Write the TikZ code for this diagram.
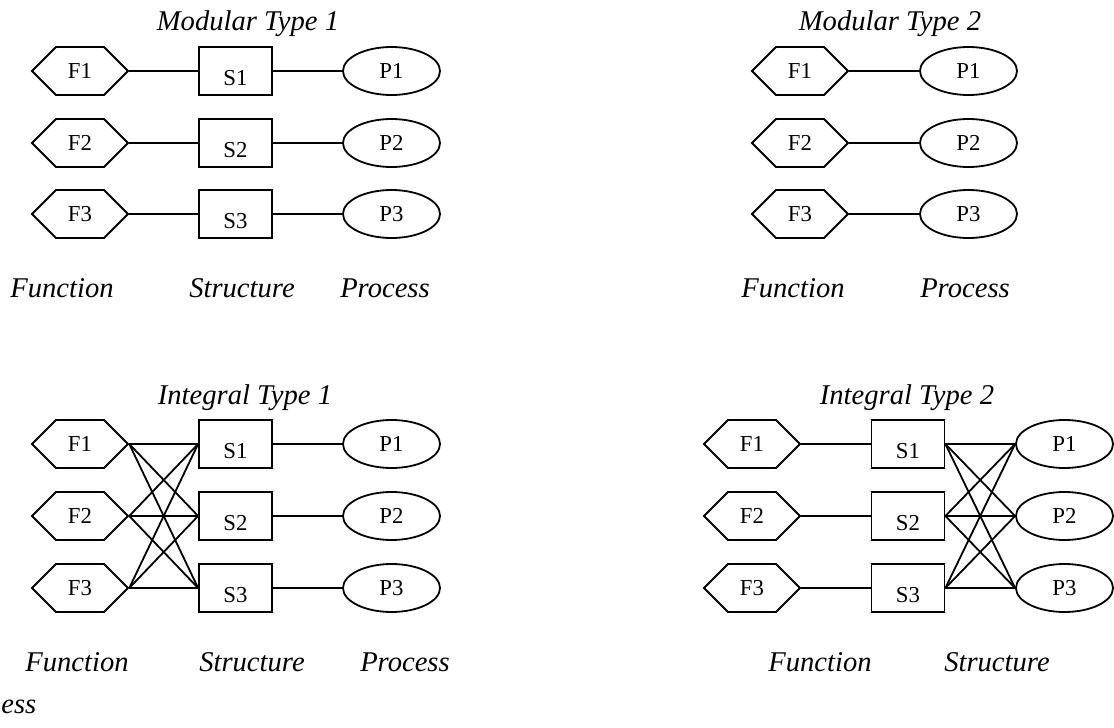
\documentclass[tikz,border=0pt]{standalone}
\usepackage{fontspec}
\setmainfont{Liberation Serif}
\usetikzlibrary{shapes.symbols,shapes.geometric}
\tikzset{
  fbox/.style={draw, line width=0.9pt, signal, signal to=east and west, signal pointer angle=90,
    minimum width=48pt, minimum height=24pt, inner sep=0pt, font=\fontsize{11.4}{13}\selectfont},
  sbox/.style={draw, line width=0.9pt, rectangle, minimum width=36.5pt, minimum height=24pt, inner sep=0pt},
  stext/.style={inner sep=0pt, font=\fontsize{11.4}{13}\selectfont},
  pbox/.style={draw, line width=0.9pt, ellipse, minimum width=48.5pt, minimum height=24pt, inner sep=0pt,
    font=\fontsize{11.4}{13}\selectfont},
  ttl/.style={inner sep=0pt, anchor=base, font=\fontsize{14.3}{17}\selectfont\itshape},
  conn/.style={line width=0.9pt},
}
\begin{document}
\begin{tikzpicture}[x=0.5pt, y=-0.5pt]
\useasboundingbox (0,0) rectangle (1114,728);
\clip (0,0) rectangle (1114,728);

% ---------- Modular Type 1 ----------
\node[ttl] (tA) at (248,31) {Modular Type 1};
\foreach \i/\y in {1/71,2/143,3/214}{
  \node[fbox] (AF\i) at (80,\y) {F\i};
  \node[sbox] (AS\i) at (235.5,\y) {};
  \node[stext] (AS\i t) at ([yshift=-3.5pt]AS\i.center) {S\i};
  \node[pbox] (AP\i) at (391.5,\y) {P\i};
  \draw[conn] (AF\i.east) -- (AS\i.west);
  \draw[conn] (AS\i.east) -- (AP\i.west);
}
\node[ttl] (lA1) at (62,297) {Function};
\node[ttl] (lA2) at (242,297) {Structure};
\node[ttl] (lA3) at (385,297) {Process};

% ---------- Modular Type 2 ----------
\node[ttl] (tB) at (890,31) {Modular Type 2};
\foreach \i/\y in {1/71,2/143,3/214}{
  \node[fbox] (BF\i) at (800,\y) {F\i};
  \node[pbox] (BP\i) at (968.5,\y) {P\i};
  \draw[conn] (BF\i.east) -- (BP\i.west);
}
\node[ttl] (lB1) at (793,297) {Function};
\node[ttl] (lB2) at (965,297) {Process};

% ---------- Integral Type 1 ----------
\node[ttl] (tC) at (245,404) {Integral Type 1};
\foreach \i/\y in {1/444,2/516,3/588}{
  \node[fbox] (CF\i) at (80,\y) {F\i};
  \node[sbox] (CS\i) at (235.5,\y) {};
  \node[stext] (CS\i t) at ([yshift=-3.5pt]CS\i.center) {S\i};
  \node[pbox] (CP\i) at (391.5,\y) {P\i};
  \draw[conn] (CS\i.east) -- (CP\i.west);
}
\foreach \i in {1,2,3}{
  \foreach \j in {1,2,3}{
    \draw[conn] (CF\i.east) -- (CS\j.west);
  }
}
\node[ttl] (lC1) at (77,671) {Function};
\node[ttl] (lC2) at (252,671) {Structure};
\node[ttl] (lC3) at (405,671) {Process};

% ---------- Integral Type 2 ----------
\node[ttl] (tD) at (907,404) {Integral Type 2};
\foreach \i/\y in {1/444,2/516,3/588}{
  \node[fbox] (DF\i) at (752,\y) {F\i};
  \node[sbox] (DS\i) at (908,\y) {};
  \node[stext] (DS\i t) at ([yshift=-3.5pt]DS\i.center) {S\i};
  \node[pbox] (DP\i) at (1064.5,\y) {P\i};
  \draw[conn] (DF\i.east) -- (DS\i.west);
}
\foreach \i in {1,2,3}{
  \foreach \j in {1,2,3}{
    \draw[conn] (DS\i.east) -- (DP\j.west);
  }
}
\node[ttl] (lD1) at (820,671) {Function};
\node[ttl] (lD2) at (997,671) {Structure};

% ---------- cropped label ----------
\node[ttl, anchor=base west] (lE) at (1,713) {ess};
\end{tikzpicture}
\end{document}
